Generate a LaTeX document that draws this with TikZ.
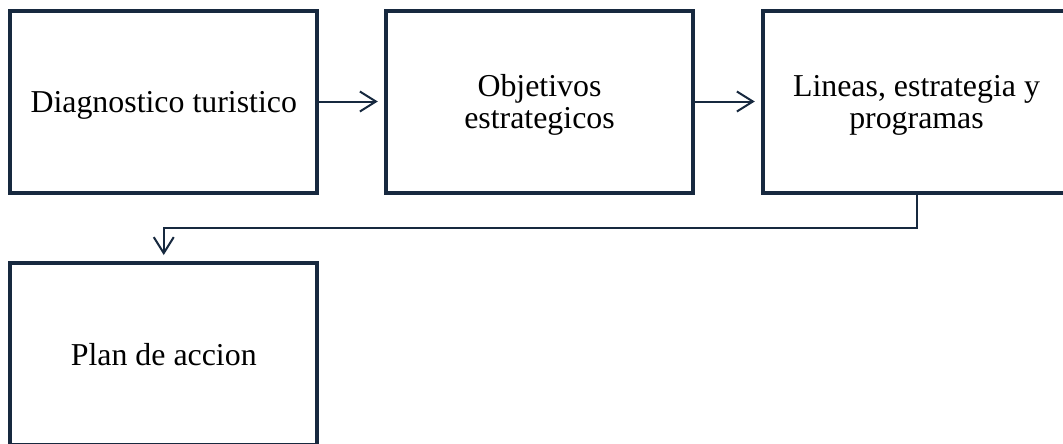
\documentclass[tikz,border=0pt]{standalone}
\usepackage{fontspec}
\setmainfont{Liberation Serif}
\usetikzlibrary{arrows.meta}
\definecolor{navy}{HTML}{17293F}
\begin{document}
\begin{tikzpicture}[x=0.75pt,y=-0.75pt,
  box/.style={draw=navy,line width=3pt,fill=white,minimum width=230.6pt,minimum height=136.5pt,
    inner sep=0pt,align=center,text depth=0pt,font=\fontsize{23.9}{24}\selectfont},
  conn/.style={draw=navy,line width=1.5pt,-{Straight Barb[length=12pt,width=15pt,line width=1.5pt]},shorten >=4.5pt}]
\useasboundingbox[fill=white] (0,0) rectangle (1063,443);
\node[box] (b1) at (163.75,101.5) {Diagnostico turistico};
\node[box] (b2) at (539.5,101.5) {Objetivos\\estrategicos};
\node[box] (b3) at (916.5,101.5) {Lineas, estrategia y\\programas};
\node[box] (b4) at (163.75,354) {Plan de accion};
\draw[conn] (b1) -- (b2);
\draw[conn] (b2) -- (b3);
\coordinate (c1) at (916.5,228);
\coordinate (c2) at (163.75,228);
\draw[conn] (b3.south) -- (c1) -- (c2) -- (b4.north);
\end{tikzpicture}
\end{document}
